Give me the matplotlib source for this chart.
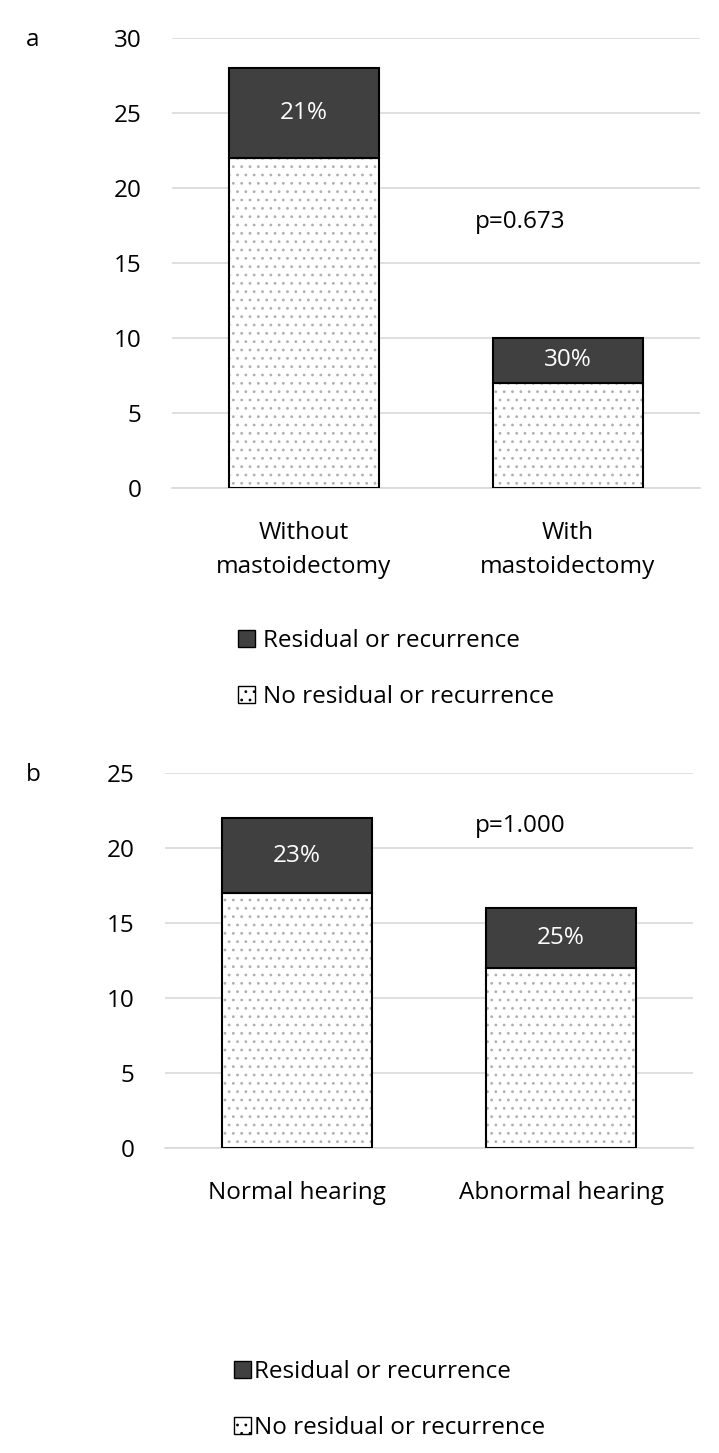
import matplotlib
matplotlib.use("Agg")
from matplotlib import pyplot as plt
from matplotlib.patches import Patch

plt.rcParams["font.family"] = ["Open Sans", "DejaVu Sans"]
plt.rcParams["hatch.linewidth"] = 0.8

# panel a
cats_a = ["Without\nmastoidectomy", "With\nmastoidectomy"]
no_resid_a = [22, 7]
resid_a = [6, 3]
pct_a = ["21%", "30%"]

# panel b
cats_b = ["Normal hearing", "Abnormal hearing"]
no_resid_b = [17, 12]
resid_b = [5, 4]
pct_b = ["23%", "25%"]

DARK = "#404040"
FS = 17.5


def draw_panel(ax, cats, base, top, pct, ymax, pval, px, py):
    x = range(len(cats))
    w = 0.57
    ax.bar(x, base, w, color="white", hatch="..", edgecolor="#b0b0b0", linewidth=0, zorder=2)
    ax.bar(x, base, w, fill=False, edgecolor="black", linewidth=1.5, zorder=3)
    ax.bar(x, top, w, bottom=base, color=DARK, edgecolor="black", linewidth=1.5, zorder=3)
    for i in x:
        ax.text(i, base[i] + top[i] / 2, pct[i], color="white", ha="center",
                va="center", fontsize=FS, zorder=4)
    ax.set_xlim(-0.5, len(cats) - 0.5)
    ax.set_ylim(0, ymax)
    ax.set_yticks(range(0, ymax + 1, 5))
    ax.set_xticks(list(x))
    ax.set_xticklabels(cats, fontsize=FS, linespacing=1.55)
    ax.tick_params(axis="y", length=0, pad=22, labelsize=FS)
    ax.tick_params(axis="x", length=0, pad=24)
    ax.grid(axis="y", color="#d9d9d9", linewidth=1.2, zorder=0)
    ax.set_axisbelow(True)
    for s in ["left", "right", "top"]:
        ax.spines[s].set_visible(False)
    ax.spines["bottom"].set_color("#d9d9d9")
    ax.spines["bottom"].set_linewidth(1.2)
    ax.text(px, py, pval, ha="center", va="center", fontsize=FS)


W, H = 719, 1453
fig = plt.figure(figsize=(W / 100, H / 100), dpi=100)

ax1 = fig.add_axes([172 / W, (H - 488) / H, 528 / W, 450 / H])
draw_panel(ax1, cats_a, no_resid_a, resid_a, pct_a, 30, "p=0.673", 0.82, 17.7)

ax2 = fig.add_axes([165 / W, (H - 1148) / H, 528 / W, 375 / H])
draw_panel(ax2, cats_b, no_resid_b, resid_b, pct_b, 25, "p=1.000", 0.845, 21.5)

fig.text(26 / W, 1 - 40 / H, "a", fontsize=FS, ha="left", va="center")
fig.text(26 / W, 1 - 775 / H, "b", fontsize=FS, ha="left", va="center")

handles = [Patch(facecolor=DARK, edgecolor="black", label="Residual or recurrence"),
           Patch(facecolor="white", edgecolor="black", hatch="..", label="No residual or recurrence")]

fig.legend(handles=handles, loc="upper left", bbox_to_anchor=(228 / W, 1 - 619 / H),
           frameon=False, fontsize=FS, handlelength=0.72, handleheight=0.72,
           handletextpad=0.3, labelspacing=1.32, borderaxespad=0)
fig.legend(handles=handles, loc="upper left", bbox_to_anchor=(224 / W, 1 - 1350 / H),
           frameon=False, fontsize=FS, handlelength=0.72, handleheight=0.72,
           handletextpad=0.1, labelspacing=1.32, borderaxespad=0)

fig.savefig("out.png", dpi=100)
